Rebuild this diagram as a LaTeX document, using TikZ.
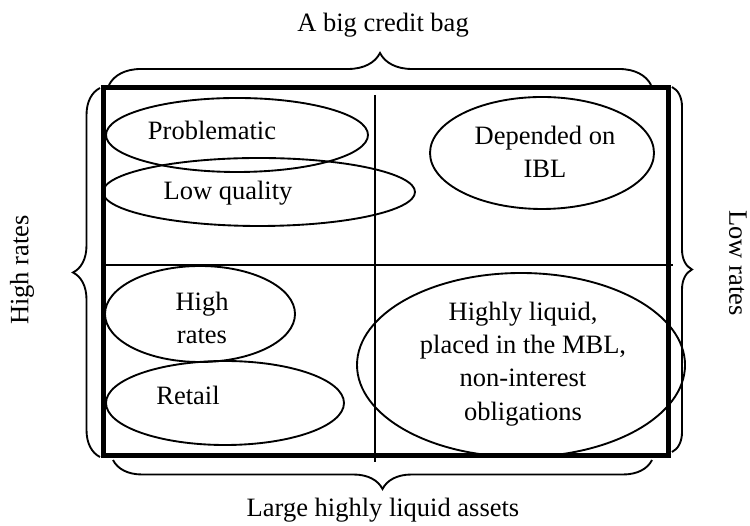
\documentclass[tikz,border=0pt]{standalone}
\usepackage{fontspec}
\setmainfont{Liberation Serif}
\usetikzlibrary{decorations.pathreplacing}

\begin{document}
\begin{tikzpicture}[
    x=0.4pt, y=0.4pt,
    rule/.style={line width=0.75pt},
    bag/.style={decorate, decoration={brace, amplitude=#1}, line width=0.75pt},
    lbl/.style={font=\fontsize{10.6}{13.3}\selectfont, align=center, inner sep=0pt}
]
    \useasboundingbox (0,0) rectangle (750,525);

    % Frame geometry
    \def\xL{103} \def\xR{668}
    \def\yB{70}  \def\yT{437}
    \def\xM{375} \def\yM{260}

    % Quadrant dividers
    \draw[rule] (\xM,430) -- (\xM,63);
    \draw[rule] (\xL,\yM) -- (673,\yM);

    % Left column
    \draw[rule] (237,390) ellipse (131 and 37);
    \draw[rule] (259,333) ellipse (156 and 34);
    \draw[rule] (200,211) ellipse (95 and 48);
    \draw[rule] (225,122) ellipse (119 and 42);

    % Right column
    \draw[rule] (542,372) ellipse (112 and 56);
    \draw[rule] (521,160) ellipse (164 and 92);

    % Thick outer frame
    \draw[line width=2pt] (\xL,\yB) rectangle (\xR,\yT);

    % Braces round the frame
    \draw[bag=12.8pt] (109,440) -- (651,440);
    \draw[bag=10.8pt] (100,68) -- (100,437);
    \draw[bag=8pt] (672,438) -- (672,73);
    \draw[bag=11.6pt] (652,65) -- (113,65);

    % Brace labels
    \node[lbl] (credit) at (383,500) {A big credit bag};
    \node[lbl, rotate=90] (high) at (22,255) {High rates};
    \node[lbl, rotate=-90] (low) at (738,262) {Low rates};
    \node[lbl] (assets) at (383,15) {Large highly liquid assets};

    % Ellipse texts
    \node[lbl] (problem) at (212,395) {Problematic};
    \node[lbl] (quality) at (228,332) {Low quality};
    \node[lbl] (ibl) at (545,373) {Depended on\\IBL};
    \node[lbl] (rates) at (202,207) {High\\rates};
    \node[lbl] (retail) at (188,130) {Retail};
    \node[lbl] (liquid) at (523,161) {Highly liquid,\\placed in the MBL,\\non-interest\\obligations};

\end{tikzpicture}
\end{document}
